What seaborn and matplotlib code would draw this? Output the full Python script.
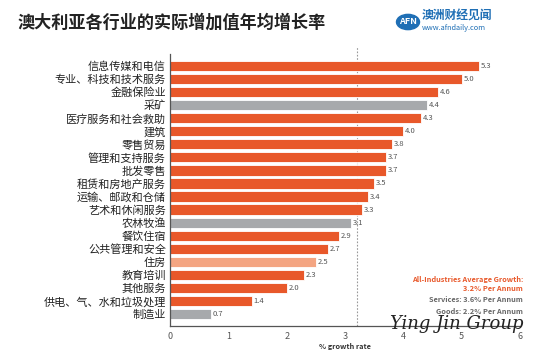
import matplotlib
matplotlib.use("Agg")
import matplotlib.pyplot as plt
import seaborn as sns
import pandas as pd
from matplotlib.patches import Circle

industries = ["信息传媒和电信", "专业、科技和技术服务", "金融保险业", "采矿", "医疗服务和社会救助",
              "建筑", "零售贸易", "管理和支持服务", "批发零售", "租赁和房地产服务",
              "运输、邮政和仓储", "艺术和休闲服务", "农林牧渔", "餐饮住宿", "公共管理和安全",
              "住房", "教育培训", "其他服务", "供电、气、水和垃圾处理", "制造业"]
growth = [5.3, 5.0, 4.6, 4.4, 4.3, 4.0, 3.8, 3.7, 3.7, 3.5, 3.4, 3.3, 3.1, 2.9, 2.7, 2.5, 2.3, 2.0, 1.4, 0.7]
group = ["s", "s", "s", "g", "s", "s", "s", "s", "s", "s", "s", "s", "g", "s", "s", "h", "s", "s", "s", "g"]
average = 3.2
xticks = [0, 1, 2, 3, 4, 5, 6]

palette = {"s": "#E8582A", "g": "#A7A9AC", "h": "#F4A582"}

sns.set_style("white")
plt.rcParams['font.family'] = ['Noto Sans CJK SC', 'DejaVu Sans']

df = pd.DataFrame({"industry": industries, "growth": growth, "group": group})

fig = plt.figure(figsize=(5.35, 3.55), dpi=100)
ax = fig.add_axes([170/535, 1-326/355, 350/535, 272/355])
sns.barplot(data=df, x="growth", y="industry", hue="group", palette=palette, saturation=1,
            dodge=False, legend=False, width=0.78, ax=ax, edgecolor="white", linewidth=0.6)

ax.set_xlim(0, 6)
ax.set_ylim(19.92, -0.92)
ax.set_xticks(xticks)
ax.set_xticklabels([str(t) for t in xticks], fontsize=6.5, color="#555555")
ax.tick_params(axis="x", length=0, pad=4)
ax.tick_params(axis="y", length=0, pad=3)
for lab in ax.get_yticklabels():
    lab.set_fontsize(8)
    lab.set_color("#222222")
ax.set_ylabel("")
ax.set_xlabel("% growth rate", fontsize=5.3, color="#333333", labelpad=1.5, fontweight="bold")
for s in ["top", "right"]:
    ax.spines[s].set_visible(False)
for s in ["left", "bottom"]:
    ax.spines[s].set_color("#555555")
    ax.spines[s].set_linewidth(0.9)

ax.axvline(average, ymin=0, ymax=1.025, color="#999999", linestyle=(0, (1.5, 1.5)),
           linewidth=0.8, clip_on=False, zorder=0)

for i, v in enumerate(growth):
    ax.text(v + 0.03, i, f"{v:.1f}", va="center", ha="left", fontsize=5.5, color="#555555")

fig.text(18/535, 1-23/355, "澳大利亚各行业的实际增加值年均增长率", fontsize=12.3,
         fontweight="bold", color="#222222", va="center", ha="left")

# logo
circ = Circle((408/535, 1-22/355), 11.5/535, transform=fig.transFigure, color="#1F6FB5")
fig.patches.append(circ)
fig.text(408/535, 1-22/355, "AFN", fontsize=6.5, color="white", ha="center", va="center", fontweight="bold")
fig.text(422/535, 1-16/355, "澳洲财经见闻", fontsize=8.5, color="#1F6FB5", ha="left", va="center", fontweight="bold")
fig.text(422/535, 1-28/355, "www.afndaily.com", fontsize=5.3, color="#1F6FB5", ha="left", va="center")

fig.text(523/535, 1-284/355, "All-Industries Average Growth:\n3.2% Per Annum", fontsize=5.3,
         color="#E8582A", ha="right", va="center", fontweight="bold", linespacing=1.25)
fig.text(523/535, 1-300/355, "Services: 3.6% Per Annum", fontsize=5.3,
         color="#666666", ha="right", va="center", fontweight="bold")
fig.text(523/535, 1-312/355, "Goods: 2.2% Per Annum", fontsize=5.3,
         color="#666666", ha="right", va="center", fontweight="bold")
fig.text(523/535, 1-324/355, "Ying Jin Group", fontsize=13, color="#222222", ha="right",
         va="center", family="DejaVu Serif", style="italic")

fig.savefig("out.png", dpi=100)
